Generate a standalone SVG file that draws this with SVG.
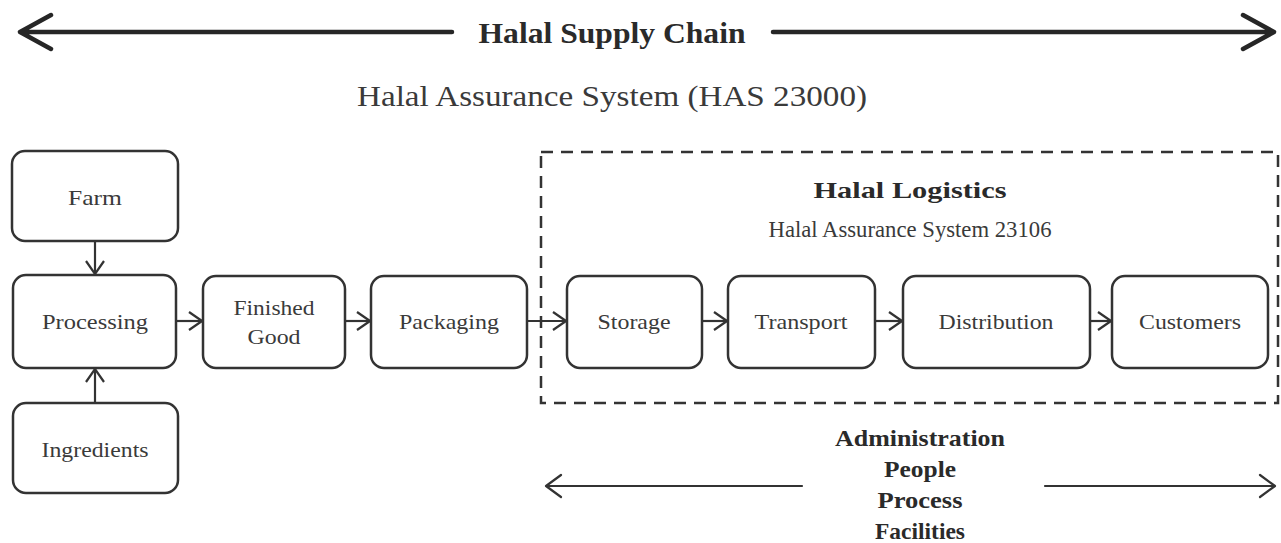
<svg xmlns="http://www.w3.org/2000/svg" width="1281" height="543" viewBox="0 0 1281 543">
  <style>
    .box { fill: #ffffff; stroke: #333333; stroke-width: 2.5; }
    .zone { fill: none; stroke: #333333; stroke-width: 2.5; stroke-dasharray: 12 8; }
    .lbl { font-family: "Liberation Serif", "Times New Roman", serif; font-size: 22px; fill: #3a3a3a; text-anchor: middle; }
    .link { fill: none; stroke: #333333; stroke-width: 2.2; marker-end: url(#chev); }
    .big { fill: none; stroke: #262626; stroke-width: 4.5; stroke-linecap: round; stroke-linejoin: round; }
    .thin { fill: none; stroke: #333333; stroke-width: 2.2; stroke-linecap: round; stroke-linejoin: round; }
    .title { font-family: "Liberation Serif", "Times New Roman", serif; font-weight: bold; fill: #2a2a2a; text-anchor: middle; }
    .sub { font-family: "Liberation Serif", "Times New Roman", serif; fill: #3a3a3a; text-anchor: middle; }
  </style>
  <defs>
    <marker id="chev" viewBox="0 0 15 20" refX="14" refY="10" markerWidth="15" markerHeight="20" markerUnits="userSpaceOnUse" orient="auto">
      <path d="M1,1 L14,10 L1,19" fill="none" stroke="#333333" stroke-width="2.2"/>
    </marker>
  </defs>

  <rect width="1281" height="543" fill="#ffffff"/>

  <!-- supply chain span arrow -->
  <g id="supply-chain-header">
    <path class="big" d="M20,32 H452 M51,15 L20,32 L51,49"/>
    <path class="big" d="M773,32 H1274 M1243,15 L1274,32 L1243,49"/>
    <text class="title" x="612" y="43" font-size="29" textLength="267" lengthAdjust="spacingAndGlyphs">Halal Supply Chain</text>
    <text class="sub" x="612" y="106" font-size="30" textLength="510" lengthAdjust="spacingAndGlyphs">Halal Assurance System (HAS 23000)</text>
  </g>

  <!-- halal logistics zone -->
  <g id="halal-logistics">
    <rect class="zone" x="541" y="152" width="737" height="251"/>
    <text class="title" x="910" y="198" font-size="24" textLength="193" lengthAdjust="spacingAndGlyphs">Halal Logistics</text>
    <text class="sub" x="910" y="237" font-size="24" textLength="283" lengthAdjust="spacingAndGlyphs">Halal Assurance System 23106</text>
  </g>

  <!-- connectors -->
  <g id="connectors">
    <path class="link" d="M95,241 V274"/>
    <path class="link" d="M95,403 V369"/>
    <path class="link" d="M176,321 H202"/>
    <path class="link" d="M345,321 H370"/>
    <path class="link" d="M527,321 H566"/>
    <path class="link" d="M702,321 H727"/>
    <path class="link" d="M875,321 H902"/>
    <path class="link" d="M1090,321 H1111"/>
  </g>

  <g id="farm">
    <rect class="box" x="12" y="151" width="166" height="90" rx="13"/>
    <text class="lbl" x="95" y="205" textLength="54" lengthAdjust="spacingAndGlyphs">Farm</text>
  </g>
  <g id="processing">
    <rect class="box" x="13" y="275" width="163" height="93" rx="13"/>
    <text class="lbl" x="95" y="329" textLength="106" lengthAdjust="spacingAndGlyphs">Processing</text>
  </g>
  <g id="ingredients">
    <rect class="box" x="13" y="403" width="165" height="90" rx="13"/>
    <text class="lbl" x="95" y="457" textLength="107" lengthAdjust="spacingAndGlyphs">Ingredients</text>
  </g>
  <g id="finished-good">
    <rect class="box" x="203" y="276" width="142" height="92" rx="13"/>
    <text class="lbl" x="274" y="315" textLength="81" lengthAdjust="spacingAndGlyphs">Finished</text>
    <text class="lbl" x="274" y="344" textLength="53" lengthAdjust="spacingAndGlyphs">Good</text>
  </g>
  <g id="packaging">
    <rect class="box" x="371" y="276" width="156" height="92" rx="13"/>
    <text class="lbl" x="449" y="329" textLength="100" lengthAdjust="spacingAndGlyphs">Packaging</text>
  </g>
  <g id="storage">
    <rect class="box" x="567" y="276" width="135" height="92" rx="13"/>
    <text class="lbl" x="634" y="329" textLength="73" lengthAdjust="spacingAndGlyphs">Storage</text>
  </g>
  <g id="transport">
    <rect class="box" x="728" y="276" width="147" height="92" rx="13"/>
    <text class="lbl" x="801" y="329" textLength="93" lengthAdjust="spacingAndGlyphs">Transport</text>
  </g>
  <g id="distribution">
    <rect class="box" x="903" y="276" width="187" height="92" rx="13"/>
    <text class="lbl" x="996" y="329" textLength="115" lengthAdjust="spacingAndGlyphs">Distribution</text>
  </g>
  <g id="customers">
    <rect class="box" x="1112" y="276" width="156" height="92" rx="13"/>
    <text class="lbl" x="1190" y="329" textLength="102" lengthAdjust="spacingAndGlyphs">Customers</text>
  </g>

  <!-- logistics scope arrows and pillars -->
  <g id="pillars">
    <path class="thin" d="M546,486 H802 M561,475 L546,486 L561,497"/>
    <path class="thin" d="M1045,486 H1275 M1260,475 L1275,486 L1260,497"/>
    <text class="title" x="920" y="446" font-size="24" textLength="170" lengthAdjust="spacingAndGlyphs">Administration</text>
    <text class="title" x="920" y="477" font-size="24" textLength="72" lengthAdjust="spacingAndGlyphs">People</text>
    <text class="title" x="920" y="508" font-size="24" textLength="85" lengthAdjust="spacingAndGlyphs">Process</text>
    <text class="title" x="920" y="539" font-size="24" textLength="90" lengthAdjust="spacingAndGlyphs">Facilities</text>
  </g>
</svg>
